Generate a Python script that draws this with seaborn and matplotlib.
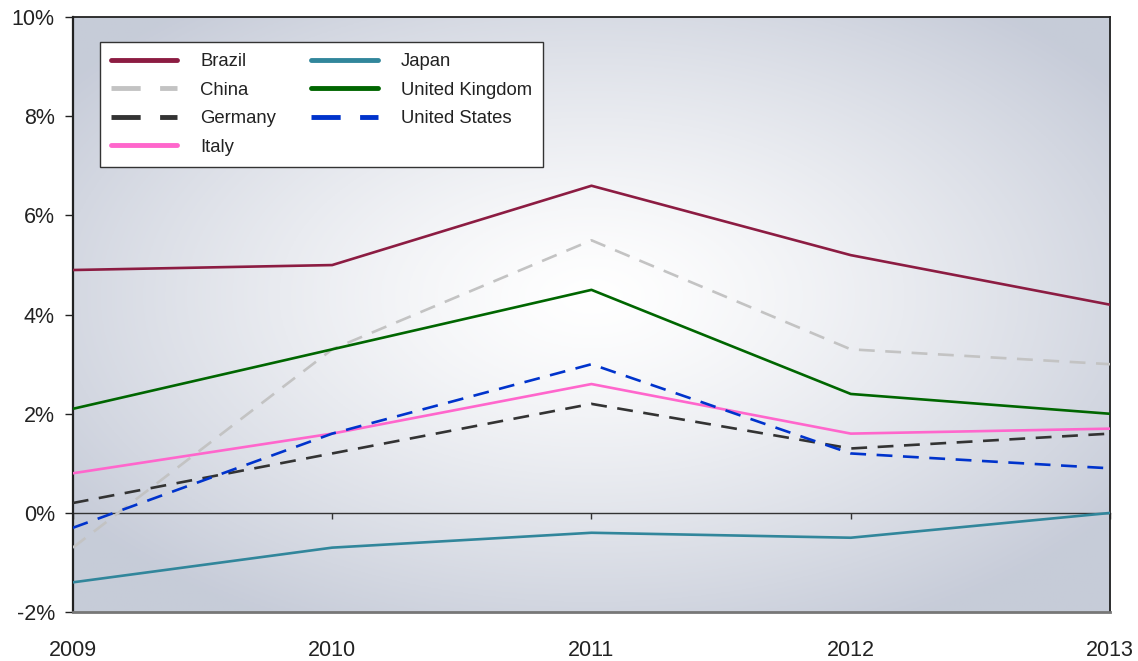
import numpy as np
import pandas as pd
import matplotlib.pyplot as plt
import seaborn as sns

# ==========================
# DATA
# ==========================

years = [2009, 2010, 2011, 2012, 2013]

countries = [
    "Brazil", "China", "Germany", "Italy",
    "Japan", "United Kingdom", "United States"
]

brazil = [4.9, 5.0, 6.6, 5.2, 4.2]
china = [-0.7, 3.3, 5.5, 3.3, 3.0]
germany = [0.2, 1.2, 2.2, 1.3, 1.6]
italy = [0.8, 1.6, 2.6, 1.6, 1.7]
japan = [-1.4, -0.7, -0.4, -0.5, 0.0]
united_kingdom = [2.1, 3.3, 4.5, 2.4, 2.0]
united_states = [-0.3, 1.6, 3.0, 1.2, 0.9]

series = [brazil, china, germany, italy, japan, united_kingdom, united_states]

colors = {
    "Brazil": "#8c1c42",
    "China": "#c3c3c3",
    "Germany": "#333333",
    "Italy": "#ff66cc",
    "Japan": "#31869b",
    "United Kingdom": "#006600",
    "United States": "#0033cc",
}

dashed = {"China", "Germany", "United States"}

df = pd.DataFrame({
    "year": years * len(countries),
    "value": [v for s in series for v in s],
    "country": [c for c in countries for _ in years],
})

# ==========================
# PLOT
# ==========================

sns.set_style("white")
plt.rcParams["font.family"] = ["Liberation Sans", "DejaVu Sans"]

fig = plt.figure(figsize=(11.38, 6.61), dpi=100)
ax = fig.add_axes([0.064, 0.074, 0.9115, 0.9])

# radial gradient background
gx, gy = np.meshgrid(np.linspace(0, 1, 400), np.linspace(0, 1, 300))
r = np.sqrt(((gx - 0.5) / 0.62) ** 2 + ((gy - 0.47) / 0.62) ** 2)
t = np.clip(r, 0, 1) ** 1.3
edge = np.array([0.78, 0.80, 0.85])
img = (1 - t[..., None]) * np.array([1.0, 1.0, 1.0]) + t[..., None] * edge
ax.imshow(img, extent=[0, 1, 0, 1], transform=ax.transAxes,
          aspect="auto", zorder=0, origin="upper")

sns.lineplot(
    data=df,
    x="year",
    y="value",
    hue="country",
    style="country",
    palette=colors,
    dashes={c: (6, 4) if c in dashed else "" for c in countries},
    linewidth=1.9,
    ax=ax,
    zorder=3,
)

ax.set_xlim(2009, 2013)
ax.set_ylim(-2, 10)
ax.set_yticks(range(-2, 11, 2))
ax.set_yticklabels([f"{v}%" for v in range(-2, 11, 2)])
ax.set_xticks(years)
ax.set_xticklabels([str(y) for y in years])
ax.set_xlabel("")
ax.set_ylabel("")

ax.tick_params(axis="y", length=6, width=1, direction="out", left=True,
               labelsize=15.5, pad=7, colors="#222222")
ax.tick_params(axis="x", length=0, labelsize=15.5, pad=20, colors="#222222")

for side in ["top", "right", "left"]:
    ax.spines[side].set_color("#222222")
    ax.spines[side].set_linewidth(1.3)
ax.spines["left"].set_linewidth(1.6)
ax.spines["bottom"].set_color("#777777")
ax.spines["bottom"].set_linewidth(2)

# zero line with small ticks
zero = ax.secondary_xaxis((0 - (-2)) / 12)
zero.set_xticks(years)
zero.tick_params(length=4, width=1, direction="out", labelbottom=False,
                 color="#333333")
zero.spines["bottom"].set_color("#333333")
zero.spines["bottom"].set_linewidth(1)

handles, labels = ax.get_legend_handles_labels()
for h in handles:
    h.set_linewidth(3.5)
leg = ax.legend(
    handles, labels,
    ncol=2,
    loc="upper left",
    bbox_to_anchor=(0.026, 0.958),
    fontsize=13.3,
    frameon=True,
    fancybox=False,
    edgecolor="#333333",
    framealpha=1,
    handlelength=3.6,
    handletextpad=1.25,
    columnspacing=1.9,
    labelspacing=0.62,
    borderpad=0.6,
    borderaxespad=0,
)
leg.get_frame().set_linewidth(1)
for text in leg.get_texts():
    text.set_color("#222222")

plt.savefig("out.png", dpi=100)
